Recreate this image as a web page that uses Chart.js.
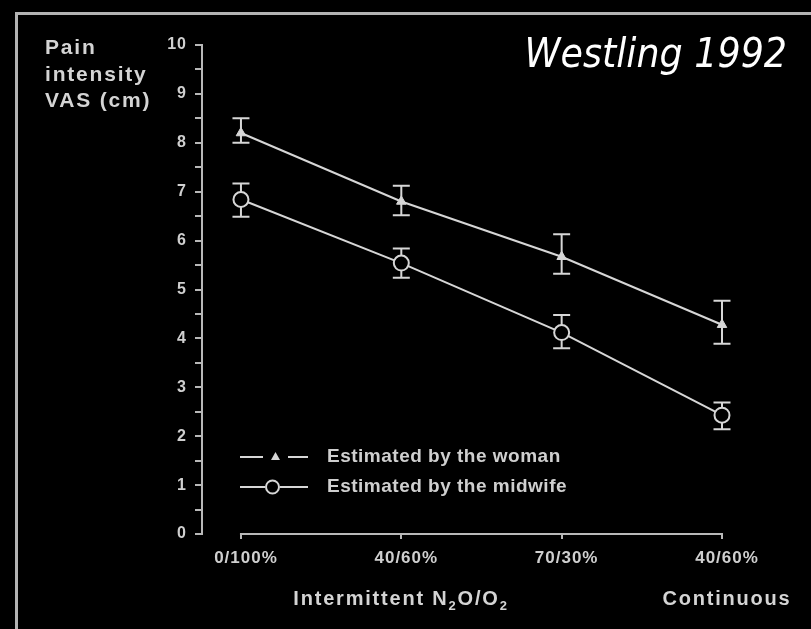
<!DOCTYPE html>
<html>
<head>
<meta charset="utf-8">
<script src="https://cdn.jsdelivr.net/npm/chart.js@4/dist/chart.umd.min.js"></script>
<style>
  html, body { margin:0; padding:0; background:#000; }
  #wrap { position:relative; width:811px; height:629px; overflow:hidden; background:#000; }
  #c { position:absolute; left:0; top:0; }
  .frame { position:absolute; left:15px; top:12px; width:900px; height:700px;
           border-top:3px solid #b3b3b3; border-left:3px solid #b3b3b3; }
  .title { position:absolute; right:24px; top:33px; color:#fff; font-family:"DejaVu Sans Condensed","DejaVu Sans",sans-serif;
           font-style:italic; font-size:40.5px; line-height:41px; white-space:nowrap; }
  .ytitle { position:absolute; left:45px; top:34px; color:#d4d4d4; font-family:"Liberation Sans",Arial,sans-serif;
            font-weight:bold; font-size:21px; line-height:26.5px; letter-spacing:1.8px; }
  .group { position:absolute; top:585px; color:#d4d4d4; font-family:"Liberation Sans",Arial,sans-serif;
           font-weight:bold; font-size:20px; line-height:26px; letter-spacing:1.8px; white-space:nowrap; transform:translateX(-50%); }
  .group sub { font-size:13px; vertical-align:-5px; line-height:0; }
</style>
</head>
<body>
<div id="wrap">
  <canvas id="c" width="811" height="629"></canvas>
  <div class="frame"></div>
  <div class="title">Westling 1992</div>
  <div class="ytitle">Pain<br>intensity<br>VAS (cm)</div>
  <div class="group" style="left:401px">Intermittent N<sub>2</sub>O/O<sub>2</sub></div>
  <div class="group" style="left:727px">Continuous</div>
</div>
<script>
// ---- data ----
const categories   = ['0/100%', '40/60%', '70/30%', '40/60%'];
const womanMean    = [8.20, 6.80, 5.67, 4.28];
const womanHigh    = [8.50, 7.12, 6.13, 4.77];
const womanLow     = [8.00, 6.52, 5.32, 3.89];
const midwifeMean  = [6.84, 5.54, 4.12, 2.43];
const midwifeHigh  = [7.17, 5.84, 4.48, 2.69];
const midwifeLow   = [6.49, 5.24, 3.80, 2.14];
const seriesLabels = ['Estimated by the woman', 'Estimated by the midwife'];
const yMin = 0, yMax = 10;

const FG = '#d6d6d6';
const TXT = '#cfcfcf';

function pts(arr) { return arr.map((v, i) => ({ x: i, y: v })); }

const errorBars = {
  id: 'errorBars',
  beforeDatasetsDraw(chart) {
    const ctx = chart.ctx, xs = chart.scales.x, ys = chart.scales.y;
    const highs = [womanHigh, midwifeHigh], lows = [womanLow, midwifeLow];
    ctx.save();
    ctx.strokeStyle = FG;
    ctx.lineWidth = 2;
    chart.data.datasets.forEach((ds, d) => {
      highs[d].forEach((hi, i) => {
        const x = xs.getPixelForValue(i);
        const yh = ys.getPixelForValue(hi), yl = ys.getPixelForValue(lows[d][i]);
        ctx.beginPath();
        ctx.moveTo(x, yh); ctx.lineTo(x, yl);
        ctx.moveTo(x - 8.5, yh); ctx.lineTo(x + 8.5, yh);
        ctx.moveTo(x - 8.5, yl); ctx.lineTo(x + 8.5, yl);
        ctx.stroke();
      });
    });
    ctx.restore();
  }
};

const xAxisLine = {
  id: 'xAxisLine',
  afterDraw(chart) {
    const ctx = chart.ctx, xs = chart.scales.x, ys = chart.scales.y;
    const y = ys.getPixelForValue(yMin);
    ctx.save();
    ctx.strokeStyle = '#b8b8b8';
    ctx.lineWidth = 2;
    ctx.beginPath();
    ctx.moveTo(xs.getPixelForValue(0) - 1, y);
    ctx.lineTo(xs.getPixelForValue(categories.length - 1) + 1, y);
    ctx.stroke();
    ctx.restore();
  }
};

const customLegend = {
  id: 'customLegend',
  afterDraw(chart) {
    const ctx = chart.ctx;
    const rows = [457, 487];
    ctx.save();
    chart.data.datasets.forEach((ds, d) => {
      const y = rows[d];
      ctx.strokeStyle = FG; ctx.fillStyle = FG; ctx.lineWidth = 2;
      if (d === 0) {
        ctx.beginPath();
        ctx.moveTo(240, y); ctx.lineTo(263, y);
        ctx.moveTo(288, y); ctx.lineTo(308, y);
        ctx.stroke();
        ctx.beginPath();
        ctx.moveTo(275.5, y - 5); ctx.lineTo(280, y + 3); ctx.lineTo(271, y + 3); ctx.closePath();
        ctx.fill();
      } else {
        ctx.beginPath();
        ctx.moveTo(240, y); ctx.lineTo(265, y);
        ctx.moveTo(280, y); ctx.lineTo(308, y);
        ctx.stroke();
        ctx.beginPath();
        ctx.arc(272.5, y, 6.5, 0, Math.PI * 2);
        ctx.fillStyle = '#000'; ctx.fill(); ctx.stroke();
      }
      ctx.fillStyle = TXT;
      ctx.font = 'bold 19px "Liberation Sans", Arial, sans-serif';
      ctx.letterSpacing = '0.5px';
      ctx.textBaseline = 'middle';
      ctx.textAlign = 'left';
      ctx.fillText(ds.label, 327, y);
    });
    ctx.restore();
  }
};

const tickSpacing = {
  id: 'tickSpacing',
  beforeDraw(chart) { chart.ctx.letterSpacing = '1px'; },
  afterDraw(chart) { chart.ctx.letterSpacing = '0px'; }
};

new Chart(document.getElementById('c'), {
  type: 'line',
  data: {
    datasets: [
      {
        label: seriesLabels[0],
        data: pts(womanMean),
        borderColor: FG, borderWidth: 2, clip: false,
        pointStyle: 'triangle', pointRadius: 5.5,
        pointBackgroundColor: FG, pointBorderColor: FG, pointBorderWidth: 1
      },
      {
        label: seriesLabels[1],
        data: pts(midwifeMean),
        borderColor: FG, borderWidth: 2, clip: false,
        pointStyle: 'circle', pointRadius: 7.5,
        pointBackgroundColor: '#000', pointBorderColor: FG, pointBorderWidth: 2
      }
    ]
  },
  options: {
    responsive: false,
    animation: false,
    devicePixelRatio: 1,
    layout: { padding: { top: 45, right: 89, left: 0, bottom: 0 } },
    plugins: { legend: { display: false }, tooltip: { enabled: false } },
    scales: {
      x: {
        type: 'linear',
        min: -0.243, max: categories.length - 1,
        afterFit(s) { s.height = 95; },
        afterBuildTicks(s) { s.ticks = categories.map((c, i) => ({ value: i })); },
        ticks: {
          autoSkip: false, maxRotation: 0, padding: 9, labelOffset: 5,
          color: TXT, font: { family: '"Liberation Sans", Arial, sans-serif', size: 17, weight: 'bold' },
          callback: (v) => categories[v] ?? ''
        },
        grid: { display: true, drawOnChartArea: false, tickLength: 5, color: '#b8b8b8', lineWidth: 2 },
        border: { display: false }
      },
      y: {
        min: yMin, max: yMax,
        afterFit(s) { s.width = 202; },
        ticks: {
          stepSize: 0.5, autoSkip: false, padding: 8,
          color: TXT, font: { family: '"Liberation Sans", Arial, sans-serif', size: 16, weight: 'bold' },
          callback: (v) => Number.isInteger(v) ? String(v) : ''
        },
        grid: { display: true, drawOnChartArea: false, tickLength: 7, color: '#b8b8b8', lineWidth: 2 },
        border: { display: true, color: '#b8b8b8', width: 2 }
      }
    }
  },
  plugins: [tickSpacing, errorBars, xAxisLine, customLegend]
});
</script>
</body>
</html>
